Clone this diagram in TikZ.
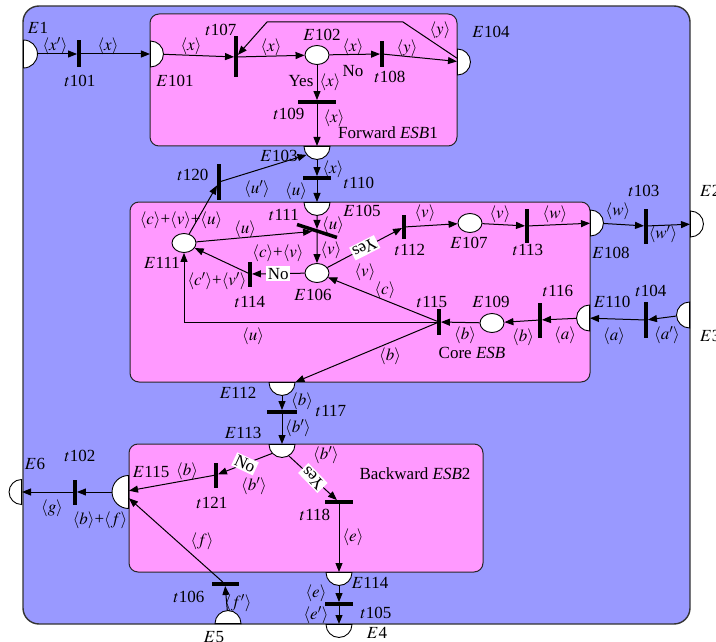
\documentclass[tikz,border=0pt]{standalone}
\usepackage{mathptmx}
\usepackage{fontspec}
\setmainfont{Liberation Serif}
\usetikzlibrary{positioning,arrows.meta,shapes.geometric,calc}
\definecolor{netblue}{HTML}{9999FF}
\definecolor{esbpink}{HTML}{FF99FF}
\newcommand{\tk}[1]{$\langle #1\rangle$}

\begin{document}
\begin{tikzpicture}[x=1pt, y=-1pt,
  lbl/.style={font=\fontsize{17}{19}\selectfont, inner sep=1pt},
  cond/.style={lbl, fill=white, inner sep=1.5pt},
  outerbox/.style={draw=black!80, line width=1.4pt, fill=netblue, rounded corners=16pt},
  esbbox/.style={draw=black!85, line width=1pt, fill=esbpink, rounded corners=9pt},
  place/.style={ellipse, draw, line width=0.9pt, fill=white, minimum width=24pt, minimum height=19pt, inner sep=0pt},
  port/.style={semicircle, draw, line width=0.9pt, fill=white, inner sep=0pt, minimum size=13pt, anchor=chord center},
  vbar/.style={fill=black, inner sep=0pt, minimum width=3.5pt, minimum height=#1},
  vbar/.default=27pt,
  hbar/.style={fill=black, inner sep=0pt, minimum height=3.5pt, minimum width=#1},
  hbar/.default=28pt,
  flow/.style={draw, line width=1pt, -{Triangle[length=9pt,width=7pt]}}
]
\useasboundingbox (0,0) rectangle (716,642);

\draw[outerbox] (23,6) rectangle (690,624);
\draw[esbbox] (150,14) rectangle (457,146);
\draw[esbbox] (130,202) rectangle (590,382);
\draw[esbbox] (129,444) rectangle (483,572);

\node[port, shape border rotate=270, minimum size=14pt] (E1) at (23,54) {};
\node[port, shape border rotate=270] (E2) at (690,224) {};
\node[port, shape border rotate=90] (E3) at (690,315) {};
\node[port, shape border rotate=180] (E4) at (339,624) {};
\node[port] (E5) at (228,624) {};
\node[port, shape border rotate=90, minimum size=12.5pt] (E6) at (22,492) {};
\node[port, shape border rotate=270] (E101) at (150,54) {};
\node[place] (E102) at (317,55) {};
\node[port, shape border rotate=180] (E103) at (317,146) {};
\node[port, shape border rotate=270] (E104) at (457,62) {};
\node[port, shape border rotate=180] (E105) at (317,202) {};
\node[place] (E106) at (317,273) {};
\node[place] (E107) at (470,223) {};
\node[port, shape border rotate=270] (E108) at (590,223) {};
\node[place] (E109) at (492,323) {};
\node[port, shape border rotate=90] (E110) at (590,318) {};
\node[place] (E111) at (184,243) {};
\node[port, shape border rotate=180] (E112) at (282,382) {};
\node[port, shape border rotate=180] (E113) at (282,444) {};
\node[port, shape border rotate=180] (E114) at (339,572) {};
\node[port, shape border rotate=90, minimum size=16.5pt] (E115) at (129,492) {};

\node[vbar] (t101) at (79,54) {};
\node[vbar=25pt] (t102) at (75,492) {};
\node[vbar=35pt] (t103) at (646,226) {};
\node[vbar=36pt] (t104) at (646,320) {};
\node[hbar] (t105) at (339,604) {};
\node[hbar=27pt] (t106) at (225,584) {};
\node[vbar=41pt] (t107) at (236,57) {};
\node[vbar=26pt] (t108) at (382,54) {};
\node[hbar=38pt] (t109) at (317,102) {};
\node[hbar] (t110) at (317,178) {};
\node[hbar=42pt, rotate=-18] (t111) at (317,231) {};
\node[vbar=24pt] (t112) at (404,227) {};
\node[vbar=34pt] (t113) at (527,226) {};
\node[vbar=25pt] (t114) at (250,274) {};
\node[vbar=26pt] (t115) at (439,322) {};
\node[vbar=35pt] (t116) at (540,320) {};
\node[hbar=30pt] (t117) at (282,412) {};
\node[hbar] (t118) at (339,502) {};
\node[vbar=35pt] (t120) at (219,182) {};
\node[vbar=25pt] (t121) at (216,475) {};

\coordinate (k1) at (403,22);
\coordinate (k2) at (267,22);

\draw[flow] (E1) -- (t101);
\draw[flow] (t101) -- (E101);
\draw[flow] (E101) -- (t107);
\draw[flow] (t107) -- (E102);
\draw[flow] (E102) -- (t108);
\draw[flow] (t108) -- (E104);
\draw[flow] (E104) -- (k1) -- (k2) -- (t107);
\draw[flow] (E102) -- (t109);
\draw[flow] (t109) -- (E103);
\draw[flow] (E103) -- (t110);
\draw[flow] (t110) -- (E105);
\draw[flow] (t120) -- (E103);
\draw[flow] (E111) -- (t120);
\draw[flow] (E105) -- (t111);
\draw[flow] (E111) -- (t111);
\draw[flow] (t111) -- (E106);
\draw[flow] (E106) -- node[cond, rotate=207] (yes1) {Yes} (t112);
\draw[flow] (t112) -- (E107);
\draw[flow] (E107) -- (t113);
\draw[flow] (t113) -- (E108);
\draw[flow] (E108) -- (t103);
\draw[flow] (t103) -- (E2);
\draw[flow] (E106) -- node[cond] (no1) {No} (t114);
\draw[flow] (t114) -- (E111);
\draw[flow] (t115) -- (E106);
\draw[flow] (t115) -| (E111);
\draw[flow] (t115) -- (E112);
\draw[flow] (E109) -- (t115);
\draw[flow] (t116) -- (E109);
\draw[flow] (E110) -- (t116);
\draw[flow] (t104) -- (E110);
\draw[flow] (E3) -- (t104);
\draw[flow] (E112) -- (t117);
\draw[flow] (t117) -- (E113);
\draw[flow] (E113) -- node[cond, rotate=-25] (no2) {No} (t121);
\draw[flow] (t121) -- (E115);
\draw[flow] (E113) -- node[cond, rotate=134] (yes2) {Yes} (t118);
\draw[flow] (t118) -- (E114);
\draw[flow] (E114) -- (t105);
\draw[flow] (t105) -- (E4);
\draw[flow] (E115) -- (t102);
\draw[flow] (t102) -- (E6);
\draw[flow] (E5) -- (t106);
\draw[flow] (t106) -- (E115);

\node[lbl] (nE1) at (38,28) {$E$1};
\node[lbl, anchor=west] (nE2) at (699,191) {$E$2};
\node[lbl, anchor=west] (nE3) at (699,336) {$E$3};
\node[lbl] (nE4) at (377,633) {$E$4};
\node[lbl] (nE5) at (214,637) {$E$5};
\node[lbl] (nE6) at (35,464) {$E$6};
\node[lbl] (nE101) at (175,81) {$E$101};
\node[lbl] (nE102) at (322,35) {$E$102};
\node[lbl] (nE103) at (279,156) {$E$103};
\node[lbl] (nE104) at (491,32) {$E$104};
\node[lbl] (nE105) at (362,211) {$E$105};
\node[lbl] (nE106) at (313,295) {$E$106};
\node[lbl] (nE107) at (469,243) {$E$107};
\node[lbl] (nE108) at (611,253) {$E$108};
\node[lbl] (nE109) at (491,302) {$E$109};
\node[lbl] (nE110) at (612,302) {$E$110};
\node[lbl] (nE111) at (162,263) {$E$111};
\node[lbl] (nE112) at (238,393) {$E$112};
\node[lbl] (nE113) at (243,433) {$E$113};
\node[lbl] (nE114) at (370,583) {$E$114};
\node[lbl] (nE115) at (151,472) {$E$115};

\node[lbl] (nt101) at (80,81) {$t$101};
\node[lbl] (nt102) at (80,456) {$t$102};
\node[lbl] (nt103) at (644,191) {$t$103};
\node[lbl] (nt104) at (651,291) {$t$104};
\node[lbl] (nt105) at (376,613) {$t$105};
\node[lbl] (nt106) at (189,597) {$t$106};
\node[lbl] (nt107) at (221,30) {$t$107};
\node[lbl] (nt108) at (390,77) {$t$108};
\node[lbl] (nt109) at (289,114) {$t$109};
\node[lbl] (nt110) at (359,183) {$t$110};
\node[lbl] (nt111) at (284,215) {$t$111};
\node[lbl] (nt112) at (410,250) {$t$112};
\node[lbl] (nt113) at (528,250) {$t$113};
\node[lbl] (nt114) at (250,302) {$t$114};
\node[lbl] (nt115) at (432,302) {$t$115};
\node[lbl] (nt116) at (558,291) {$t$116};
\node[lbl] (nt117) at (331,411) {$t$117};
\node[lbl] (nt118) at (315,515) {$t$118};
\node[lbl] (nt120) at (193,175) {$t$120};
\node[lbl] (nt121) at (212,503) {$t$121};

\node[lbl] (a1) at (55,46) {\tk{x'}};
\node[lbl] (a2) at (108,46) {\tk{x}};
\node[lbl] (a3) at (191,46) {\tk{x}};
\node[lbl] (a4) at (271,47) {\tk{x}};
\node[lbl] (a5) at (353,47) {\tk{x}};
\node[lbl] (a6) at (353,71) {No};
\node[lbl] (a7) at (407,48) {\tk{y}};
\node[lbl] (a8) at (440,30) {\tk{y}};
\node[lbl] (a9) at (301,81) {Yes};
\node[lbl] (a10) at (330,82) {\tk{x}};
\node[lbl] (a11) at (334,118) {\tk{x}};
\node[lbl] (a12) at (388,133) {Forward \textit{ESB}1};
\node[lbl] (a13) at (333,169) {\tk{x}};
\node[lbl] (a14) at (296,191) {\tk{u}};
\node[lbl] (a15) at (257,189) {\tk{u'}};
\node[lbl] (a16) at (181,220) {\tk{c}+\tk{v}+\tk{u}};
\node[lbl] (a17) at (333,225) {\tk{u}};
\node[lbl] (a18) at (245,229) {\tk{u}};
\node[lbl] (a19) at (331,250) {\tk{v}};
\node[lbl] (a20) at (278,253) {\tk{c}+\tk{v}};
\node[lbl] (a21) at (217,281) {\tk{c'}+\tk{v'}};
\node[lbl] (a22) at (253,336) {\tk{u}};
\node[lbl] (a23) at (365,272) {\tk{v}};
\node[lbl] (a24) at (425,213) {\tk{v}};
\node[lbl] (a25) at (500,214) {\tk{v}};
\node[lbl] (a26) at (555,214) {\tk{w}};
\node[lbl] (a27) at (618,211) {\tk{w}};
\node[lbl] (a28) at (663,234) {\tk{w'}};
\node[lbl] (a29) at (385,290) {\tk{c}};
\node[lbl] (a30) at (465,335) {\tk{b}};
\node[lbl] (a31) at (523,337) {\tk{b}};
\node[lbl] (a32) at (565,335) {\tk{a}};
\node[lbl] (a33) at (614,336) {\tk{a}};
\node[lbl] (a34) at (667,335) {\tk{a'}};
\node[lbl] (a35) at (472,353) {Core \textit{ESB}};
\node[lbl] (a36) at (390,356) {\tk{b}};
\node[lbl] (a37) at (302,401) {\tk{b}};
\node[lbl] (a38) at (298,428) {\tk{b'}};
\node[lbl] (a39) at (326,455) {\tk{b'}};
\node[lbl] (a40) at (254,486) {\tk{b'}};
\node[lbl] (a41) at (415,474) {Backward \textit{ESB}2};
\node[lbl] (a42) at (353,537) {\tk{e}};
\node[lbl] (a43) at (316,593) {\tk{e}};
\node[lbl] (a44) at (316,615) {\tk{e'}};
\node[lbl] (a45) at (187,471) {\tk{b}};
\node[lbl] (a46) at (52,508) {\tk{g}};
\node[lbl] (a47) at (100,520) {\tk{b}+\tk{f}};
\node[lbl] (a48) at (202,541) {\tk{f}};
\node[lbl] (a49) at (238,603) {\tk{f'}};

\end{tikzpicture}
\end{document}
